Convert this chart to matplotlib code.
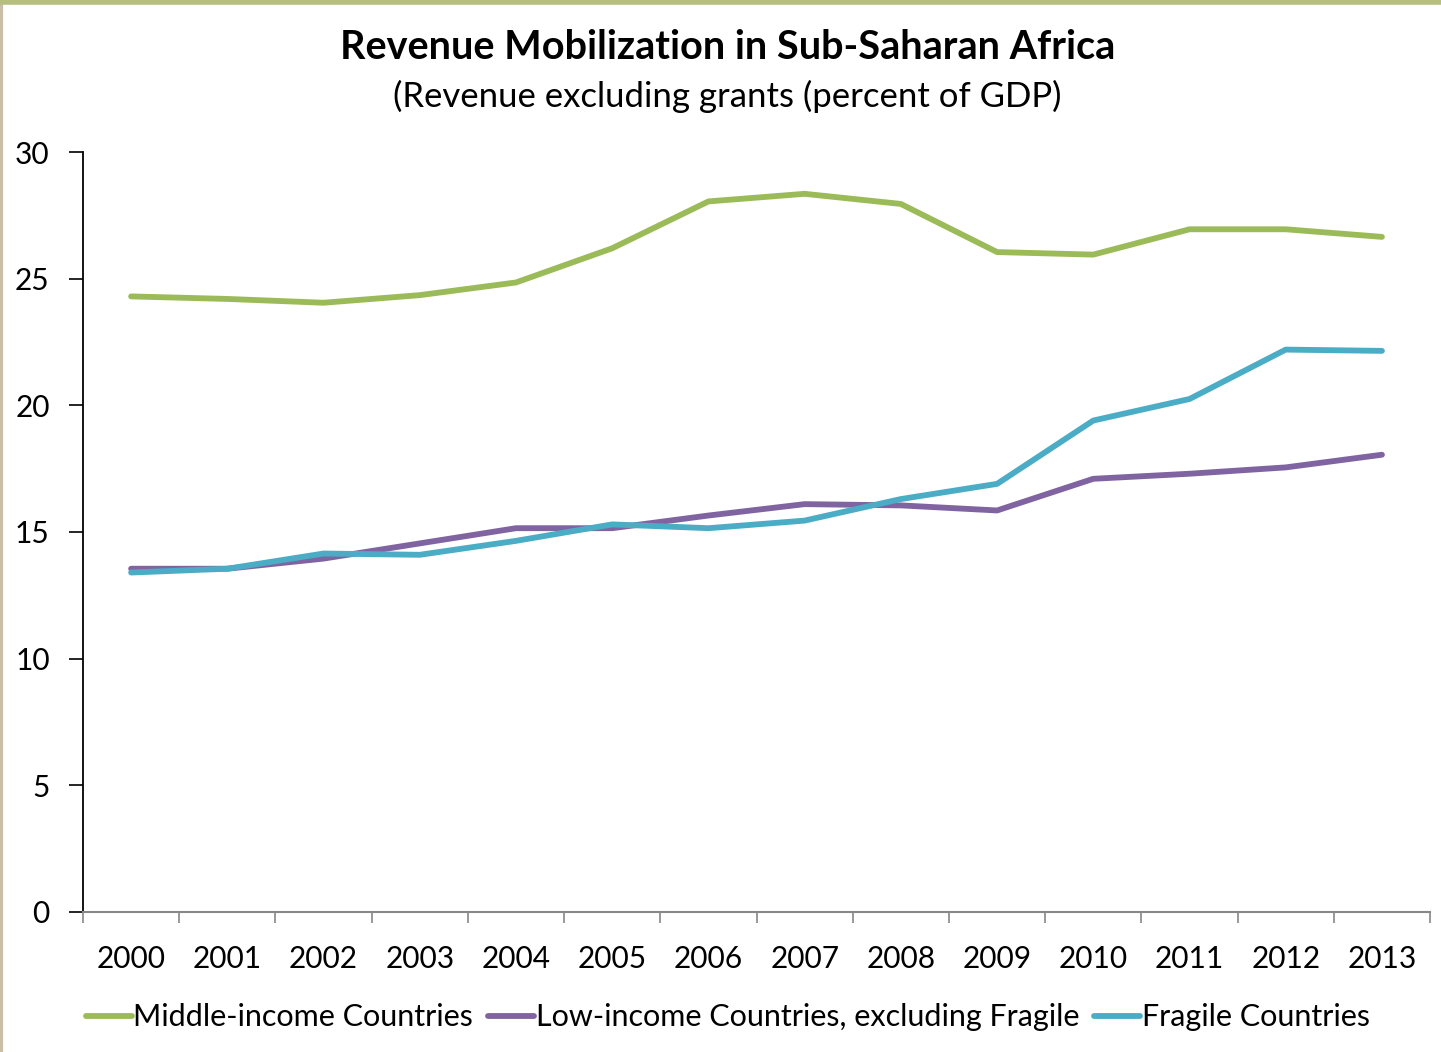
import matplotlib.pyplot as plt
from matplotlib.lines import Line2D
import numpy as np

years = ["2000", "2001", "2002", "2003", "2004", "2005", "2006",
         "2007", "2008", "2009", "2010", "2011", "2012", "2013"]
middle_income = [24.3, 24.2, 24.05, 24.35, 24.85, 26.2, 28.05,
                 28.35, 27.95, 26.05, 25.95, 26.95, 26.95, 26.65]
low_income = [13.55, 13.55, 13.95, 14.55, 15.15, 15.15, 15.65,
              16.1, 16.05, 15.85, 17.1, 17.3, 17.55, 18.05]
fragile = [13.4, 13.55, 14.15, 14.1, 14.65, 15.3, 15.15,
           15.45, 16.3, 16.9, 19.4, 20.25, 22.2, 22.15]
series_names = ["Middle-income Countries",
                "Low-income Countries, excluding Fragile",
                "Fragile Countries"]
colors = ["#9bbb59", "#8064a2", "#4bacc6"]

plt.rcParams["font.family"] = ["Lato", "DejaVu Sans"]

fig = plt.figure(figsize=(14.41, 10.52), dpi=100)
ax = fig.add_axes([0.0576, 0.1331, 0.9348, 0.7224])

x = np.arange(len(years))
for vals, c, name in zip([middle_income, low_income, fragile], colors, series_names):
    ax.plot(x, vals, color=c, lw=4.2, solid_capstyle="round",
            solid_joinstyle="round", label=name)

ax.set_xlim(-0.5, len(years) - 0.5)
ax.set_ylim(0, 30)
ax.set_yticks(range(0, 31, 5))
ax.set_xticks(x)
ax.set_xticklabels(years)
ax.set_xticks(np.arange(-0.5, len(years), 1.0), minor=True)
ax.tick_params(axis="x", which="major", length=0, labelsize=21.5, pad=24)
ax.tick_params(axis="x", which="minor", length=8, width=1.2, color="#888888")
ax.tick_params(axis="y", length=10, width=1.2, labelsize=21.5, pad=14)

for s in ["top", "right"]:
    ax.spines[s].set_visible(False)
ax.spines["left"].set_linewidth(1.3)
ax.spines["bottom"].set_color("#888888")
ax.spines["bottom"].set_linewidth(1.5)

fig.text(0.505, 0.955, "Revenue Mobilization in Sub-Saharan Africa",
         ha="center", va="center", fontsize=28.5, fontweight="bold")
fig.text(0.505, 0.908, "(Revenue excluding grants (percent of GDP)",
         ha="center", va="center", fontsize=25)

handles = [Line2D([], [], color=c, lw=4.2, solid_capstyle="round") for c in colors]
fig.legend(handles, series_names, loc="center", bbox_to_anchor=(0.505, 0.033),
           ncol=3, frameon=False, fontsize=22, handlelength=1.5,
           handletextpad=0.05, columnspacing=0.5)

# window-like frame
fig.add_artist(Line2D([0.001, 0.001], [0, 1], transform=fig.transFigure,
                      color="#c9bfa6", lw=3))
fig.add_artist(Line2D([0, 1], [0.998, 0.998], transform=fig.transFigure,
                      color="#b7bf80", lw=4))

fig.savefig("out.png", dpi=100)
